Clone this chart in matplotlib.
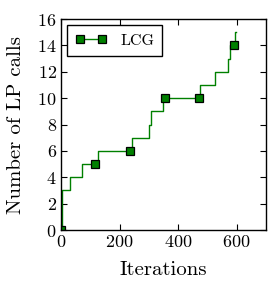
import matplotlib
matplotlib.use("Agg")
import matplotlib.pyplot as plt

# Step changes of the number of LP calls over iterations
iters = [0, 2, 4, 30, 72, 118, 125, 236, 244, 300, 309, 348, 354, 472, 476, 525, 572, 576, 590, 596, 598]
calls = [0, 2, 3, 4, 5, 5, 6, 6, 7, 8, 9, 10, 10, 10, 11, 12, 13, 14, 14, 15, 15]
marker_idx = [0, 5, 7, 12, 13, 18]
series_label = "LCG"
xticks = [0, 200, 400, 600]
yticks = [0, 2, 4, 6, 8, 10, 12, 14, 16]

plt.rcParams['font.family'] = ['cmr10', 'DejaVu Serif']
plt.rcParams['axes.formatter.use_mathtext'] = True
plt.rcParams['mathtext.fontset'] = 'cm'

fig = plt.figure(figsize=(2.77, 2.91), dpi=100)
ax = fig.add_axes([0.220, 0.2096, 0.740, 0.725])

ax.plot(iters, calls, drawstyle='steps-post', color='#008000', lw=1.0,
        marker='s', markersize=6.0, markerfacecolor='#008000',
        markeredgecolor='black', markeredgewidth=0.9,
        markevery=marker_idx, label=series_label)

ax.set_xlim(0, 700)
ax.set_ylim(0, 16)
ax.set_xticks(xticks)
ax.set_yticks(yticks)
ax.tick_params(direction='in', top=True, right=True, length=4, width=0.8,
               labelsize=13, pad=3)
for s in ax.spines.values():
    s.set_linewidth(1.0)

ax.set_xlabel('Iterations', fontsize=15, labelpad=8)
ax.set_ylabel('Number of LP calls', fontsize=15, labelpad=9)

leg = ax.legend(loc='upper left', numpoints=2, fontsize=11.5, fancybox=False,
                edgecolor='black', framealpha=1.0, handlelength=2.0,
                borderpad=0.5, borderaxespad=0.4)
leg.get_frame().set_linewidth(1.0)

fig.savefig('out.png', dpi=100)
